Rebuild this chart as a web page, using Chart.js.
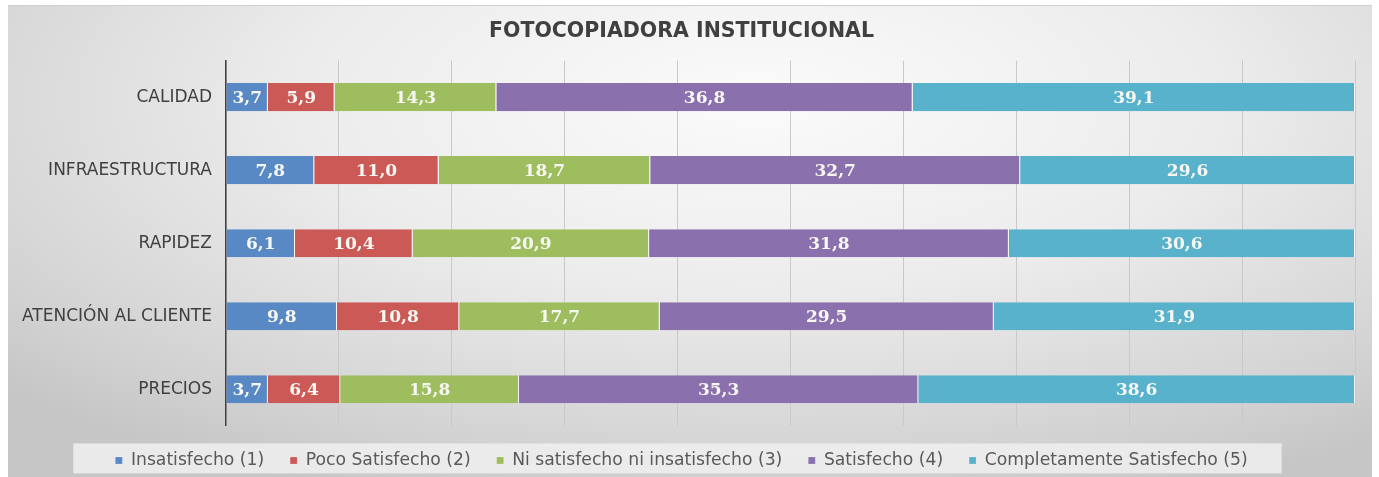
<!DOCTYPE html>
<html>
<head>
<meta charset="utf-8">
<script src="https://cdn.jsdelivr.net/npm/chart.js@4"></script>
<style>
  body { margin: 0; background: #fff; }
  #wrap {
    position: absolute; left: 8px; top: 5px; width: 1364px; height: 472px;
    background: radial-gradient(ellipse 75% 90% at 55% 20%, #fbfbfb 0%, #ececec 45%, #d2d2d2 85%, #c6c6c6 100%);
    border-top: 1px solid #d0d0d0;
  }
</style>
</head>
<body>
<div id="wrap"><canvas id="chart" width="1364" height="472"></canvas></div>
<script>
// categories and series (percent)
var categories = ['CALIDAD', 'INFRAESTRUCTURA', 'RAPIDEZ', 'ATENCIÓN AL CLIENTE', 'PRECIOS'];
var seriesNames = ['Insatisfecho (1)', 'Poco Satisfecho (2)', 'Ni satisfecho ni insatisfecho (3)', 'Satisfecho (4)', 'Completamente Satisfecho (5)'];
var insatisfecho   = [3.7, 7.8, 6.1, 9.8, 3.7];
var pocoSatisfecho = [5.9, 11.0, 10.4, 10.8, 6.4];
var niNi           = [14.3, 18.7, 20.9, 17.7, 15.8];
var satisfecho     = [36.8, 32.7, 31.8, 29.5, 35.3];
var completamente  = [39.1, 29.6, 30.6, 31.9, 38.6];
var colors = ['#5889c4', '#cb5a57', '#9dbd5f', '#8a70ad', '#58b2cb'];

var raw = [insatisfecho, pocoSatisfecho, niNi, satisfecho, completamente];
// 100% stacked: scale each row to its total
var totals = categories.map(function (c, i) {
  return raw.reduce(function (s, arr) { return s + arr[i]; }, 0);
});

var datasets = raw.map(function (arr, k) {
  return {
    label: seriesNames[k],
    data: arr.map(function (v, i) { return v / totals[i] * 100; }),
    rawValues: arr,
    backgroundColor: colors[k],
    borderColor: 'rgba(255,255,255,0.7)',
    borderWidth: { right: 1, left: 0, top: 0, bottom: 0 },
    borderSkipped: false,
    barPercentage: 0.77,
    categoryPercentage: 0.5
  };
});

// value labels inside segments
var valueLabels = {
  id: 'valueLabels',
  afterDatasetsDraw: function (chart) {
    var ctx = chart.ctx;
    ctx.save();
    ctx.font = 'bold 17px "DejaVu Serif", serif';
    ctx.fillStyle = '#f7f7f2';
    ctx.textAlign = 'center';
    ctx.textBaseline = 'middle';
    chart.data.datasets.forEach(function (ds, di) {
      chart.getDatasetMeta(di).data.forEach(function (el, i) {
        var p = el.getProps(['x', 'y', 'base'], true);
        var txt = ds.rawValues[i].toFixed(1).replace('.', ',');
        ctx.fillText(txt, (p.x + p.base) / 2, p.y + 1);
      });
    });
    ctx.restore();
  }
};

// light box behind the legend
var legendBox = {
  id: 'legendBox',
  beforeDraw: function (chart) {
    var boxes = chart.legend.legendHitBoxes;
    if (!boxes || !boxes.length) return;
    var ctx = chart.ctx;
    var minX = Math.min.apply(null, boxes.map(function (b) { return b.left; }));
    var maxX = Math.max.apply(null, boxes.map(function (b) { return b.left + b.width; }));
    var cy = boxes[0].top + boxes[0].height / 2;
    ctx.save();
    ctx.fillStyle = 'rgba(240,240,240,0.85)';
    ctx.fillRect(minX - 42, cy - 17, maxX - minX + 76, 30);
    ctx.restore();
  }
};

new Chart(document.getElementById('chart'), {
  type: 'bar',
  data: { labels: categories, datasets: datasets },
  options: {
    indexAxis: 'y',
    responsive: false,
    animation: false,
    layout: { padding: { left: 0, right: 17, top: 0, bottom: -1 } },
    scales: {
      x: {
        stacked: true, min: 0, max: 100,
        ticks: { display: false, stepSize: 10 },
        grid: { color: '#c9c9c9', lineWidth: 1, drawTicks: false },
        border: { display: false }
      },
      y: {
        stacked: true,
        afterFit: function (s) { s.width = 218; },
        ticks: { color: '#404040', font: { family: '"DejaVu Sans", sans-serif', size: 17 }, padding: 6 },
        grid: { display: false },
        border: { color: '#404040', width: 1.5 }
      }
    },
    plugins: {
      title: {
        display: true,
        text: 'FOTOCOPIADORA INSTITUCIONAL',
        color: '#404040',
        font: { family: '"DejaVu Sans", sans-serif', size: 20.5, weight: 'bold' },
        padding: { top: 13, bottom: 17 }
      },
      legend: {
        position: 'bottom',
        labels: {
          color: '#595959',
          font: { family: '"DejaVu Sans", sans-serif', size: 17.2 },
          boxWidth: 7, boxHeight: 7,
          padding: 26
        }
      },
      tooltip: { enabled: false }
    }
  },
  plugins: [valueLabels, legendBox]
});
</script>
</body>
</html>
